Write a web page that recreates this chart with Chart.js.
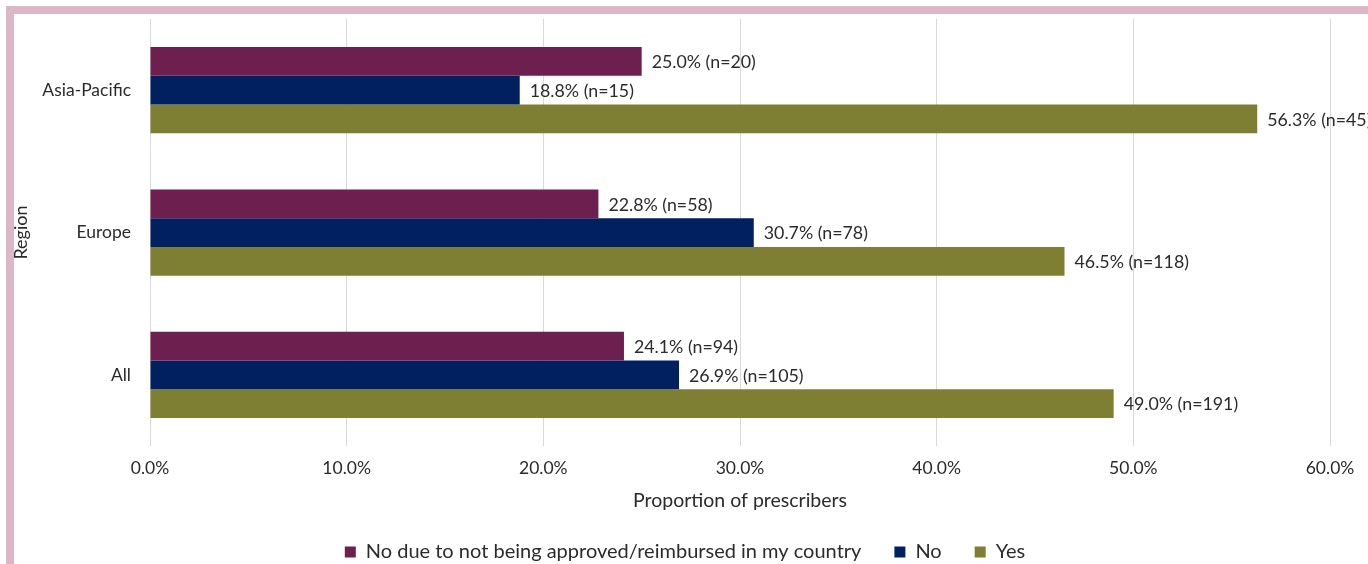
<!DOCTYPE html>
<html>
<head>
<meta charset="utf-8">
<script src="https://cdn.jsdelivr.net/npm/chart.js@4"></script>
<style>
  html, body { margin: 0; padding: 0; background: #fff; overflow: hidden; }
  #wrap { position: relative; width: 1368px; height: 564px; overflow: hidden; }
  #frame {
    position: absolute; left: 6px; top: 6px; width: 1400px; height: 600px;
    border-top: 8px solid #dcb7c8; border-left: 8px solid #dcb7c8;
    pointer-events: none;
  }
  canvas { position: absolute; left: 0; top: 0; }
</style>
</head>
<body>
<div id="wrap">
  <canvas id="grafik" width="1368" height="572"></canvas>
  <div id="frame"></div>
</div>
<script>
const regions = ["Asia-Pacific", "Europe", "All"];
const notApproved = [25.0, 22.8, 24.1];
const notApprovedN = [20, 58, 94];
const no = [18.8, 30.7, 26.9];
const noN = [15, 78, 105];
const yes = [56.3, 46.5, 49.0];
const yesN = [45, 118, 191];
const xMax = 60;
const xStep = 10;

const font = "Lato";
const textColor = "#2b2b2b";

// labels like "25.0% (n=20)" right of each bar
const barLabels = {
  id: "barLabels",
  afterDatasetsDraw(chart) {
    const ctx = chart.ctx;
    ctx.save();
    ctx.font = "17.8px " + font;
    ctx.fillStyle = textColor;
    ctx.textBaseline = "middle";
    ctx.textAlign = "left";
    chart.data.datasets.forEach((ds, i) => {
      chart.getDatasetMeta(i).data.forEach((bar, j) => {
        const txt = ds.data[j].toFixed(1) + "% (n=" + ds.counts[j] + ")";
        ctx.fillText(txt, bar.x + 10, bar.y + 1);
      });
    });
    ctx.restore();
  },
};

const grafik = document.getElementById("grafik");
let chart = new Chart(grafik, {
  type: "bar",
  data: {
    labels: regions,
    datasets: [
      {
        label: "No due to not being approved/reimbursed in my country",
        data: notApproved,
        counts: notApprovedN,
        backgroundColor: "#6d1f4f",
      },
      {
        label: "No",
        data: no,
        counts: noN,
        backgroundColor: "#002060",
      },
      {
        label: "Yes",
        data: yes,
        counts: yesN,
        backgroundColor: "#7e7f33",
      },
    ],
  },
  options: {
    indexAxis: "y",
    responsive: false,
    animation: false,
    devicePixelRatio: 1,
    categoryPercentage: 0.606,
    barPercentage: 1,
    layout: { padding: { left: 10, right: 8, top: 19, bottom: 0 } },
    scales: {
      x: {
        min: 0,
        max: xMax,
        grid: { color: "#d9d9d9", drawTicks: false },
        border: { display: false },
        ticks: {
          stepSize: xStep,
          padding: 12,
          color: textColor,
          font: { family: font, size: 17.5 },
          callback: (value) => value.toFixed(1) + "%",
        },
        title: {
          display: true,
          text: "Proportion of prescribers",
          color: textColor,
          font: { family: font, size: 19.5 },
          padding: { top: -2, bottom: -3.5 },
        },
        afterFit: (scale) => {
          scale.paddingRight = 38;
        },
      },
      y: {
        grid: { display: false, drawTicks: false },
        border: { display: false },
        ticks: {
          padding: 19,
          color: textColor,
          font: { family: font, size: 17.5 },
        },
        title: {
          display: true,
          text: "Region",
          color: textColor,
          font: { family: font, size: 18 },
          padding: 0,
        },
        afterFit: (scale) => {
          scale.width = 140;
          scale.paddingTop = 0;
          scale.paddingBottom = 0;
        },
      },
    },
    plugins: {
      legend: {
        position: "bottom",
        labels: {
          boxWidth: 11,
          boxHeight: 11,
          padding: 33,
          color: textColor,
          font: { family: font, size: 20 },
        },
      },
      tooltip: { enabled: false },
    },
  },
  plugins: [barLabels],
});
</script>
</body>
</html>
